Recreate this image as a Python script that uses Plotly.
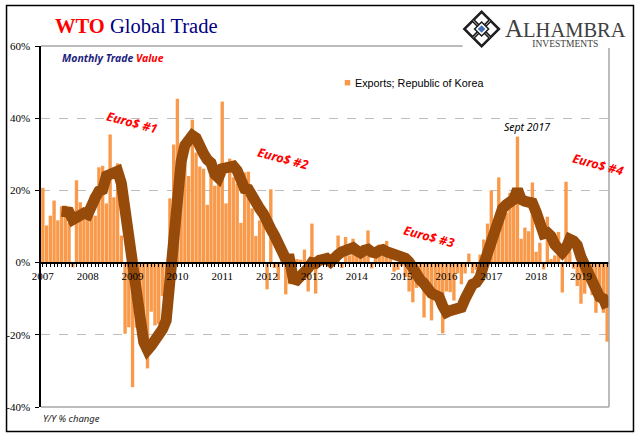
import plotly.graph_objects as go

years = list(range(2007, 2020))
months = [f"{y}-{m:02d}" for y in years for m in range(1, 13)][:152]

exports = [
    20.7, 10.3, 13.0, 17.2, 11.7, 15.6, 15.8, 11.0, -1.3, 22.8, 16.7, 12.0,
    13.0, 18.8, 13.0, 26.4, 26.8, 16.4, 35.5, 18.1, 27.5, 7.5, -19.7, -17.9,
    -34.5, -18.0, -20.0, -22.0, -29.3, -13.6, -17.4, -17.0, -9.3, -6.0, 17.8, 32.7,
    45.4, 30.0, 33.8, 24.0, 39.6, 30.5, 26.6, 26.0, 16.0, 24.0, 21.3, 24.0,
    44.6, 16.4, 28.8, 23.6, 21.9, 11.0, 25.0, 25.2, 15.0, 7.4, 11.7, 12.0,
    -7.4, 20.3, -1.5, -4.8, 2.0, -8.8, -6.0, -4.0, 1.0, 0.8, 3.6, -8.0,
    10.8, -8.6, 1.0, 1.5, 2.7, 1.0, 2.0, 7.5, -1.5, 7.1, 2.0, 6.6,
    2.0, 2.0, 3.0, 8.9, -1.6, 2.0, 5.0, 2.0, 6.0, 2.0, -2.5, -2.0,
    -1.0, -4.0, -8.0, -11.0, -7.0, -5.0, -15.2, -9.0, -16.0, -8.0, -12.0, -19.6,
    -8.0, -8.2, -10.5, -3.0, -6.0, -3.0, 2.5, -3.0, -2.0, 2.2, 6.4, 10.8,
    20.0, 9.0, 23.6, 14.0, 13.8, 19.3, 18.0, 34.9, 6.6, 9.7, 8.7, 22.2,
    3.0, 5.5, -1.9, 12.7, 1.0, 2.0, 8.5, -8.3, 22.4, 3.0, -1.7, -6.5,
    -11.4, -8.6, -5.0, -9.0, -13.9, -7.0, -13.9, -21.9,
]

smoothed = [
    None, None, None, None, None, 14.2, 13.8, 14.0, 11.9, 12.8, 13.7, 13.7,
    13.3, 16.5, 17.9, 19.8, 20.2, 24.0, 24.4, 24.8, 25.3, 22.0, 13.7, 5.0,
    -3.0, -10.0, -15.0, -22.0, -24.2, -23.0, -21.5, -21.0, -18.5, -16.0, -3.0, 6.0,
    20.0, 28.0, 32.5, 34.5, 35.2, 34.5, 31.5, 30.2, 28.5, 27.6, 24.5, 23.5,
    26.0, 26.5, 27.0, 26.7, 25.5, 22.0, 20.5, 20.3, 18.0, 16.0, 15.0, 13.5,
    10.5, 9.3, 7.5, 5.0, 2.5, 1.0, 1.0, -4.5, -4.8, -4.0, -2.5, -1.5,
    0.0, -0.2, 0.6, 0.7, 1.1, 0.2, 1.7, 2.2, 3.0, 3.3, 3.8, 4.1,
    3.3, 2.7, 3.4, 3.7, 2.9, 2.7, 3.3, 3.6, 3.0, 2.7, 2.3, 2.2,
    1.9, 1.2, 0.2, -1.8, -3.8, -4.8, -5.8, -7.5, -8.5, -9.0, -9.5, -12.0,
    -13.8, -13.3, -13.0, -12.6, -12.4, -10.0, -7.0, -6.0, -5.5, -4.0, -0.5, 3.0,
    6.5, 10.5, 13.0, 15.0, 16.0, 17.0, 17.5, 20.3, 17.5, 17.0, 16.3, 16.5,
    14.0, 11.0, 8.0, 8.3, 7.3, 5.0, 4.2, 2.8, 4.0, 6.5, 6.0, 4.8,
    1.5, -0.5, -4.0, -5.5, -8.0, -9.5, -10.0, -12.5,
]

tick_labels = [m[:4] if m.endswith("-01") else "" for m in months]

W, H = 641, 441
L, R, T, B = 41, 609.5, 46, 407.5


def px(x):
    return (x - L) / (R - L)


def py(y):
    return (B - y) / (B - T)


fig = go.Figure()
fig.add_trace(go.Bar(
    x=months, y=exports, name="Exports; Republic of Korea", showlegend=False,
    marker=dict(color="#F9994A", line=dict(width=0)),
))
fig.add_trace(go.Scatter(
    x=months, y=smoothed, mode="lines", showlegend=False,
    line=dict(color="#964B0A", width=11),
))

shapes = []


def paper_line(x0, y0, x1, y1, color="#A6A6A6", width=1.5):
    shapes.append(dict(type="line", xref="paper", yref="paper", layer="above",
                       x0=px(x0), y0=py(y0), x1=px(x1), y1=py(y1),
                       line=dict(color=color, width=width)))


# frame and plot border
shapes.append(dict(type="rect", xref="paper", yref="paper", layer="below",
                   x0=px(6.5), y0=py(432), x1=px(634), y1=py(5.5),
                   line=dict(color="black", width=1.5)))
paper_line(41, 46, 463, 46)
paper_line(41, 407.5, 609.5, 407.5)
paper_line(609.5, 48, 609.5, 407.5)

# legend swatch
shapes.append(dict(type="rect", xref="paper", yref="paper", layer="above",
                   x0=px(345), y0=py(85.5), x1=px(350.5), y1=py(80),
                   line=dict(width=0), fillcolor="#F9994A"))


# logo, drawn from diamonds
def diamond(cx, cy, r, **kw):
    path = (f"M {px(cx - r)} {py(cy)} L {px(cx)} {py(cy - r)} "
            f"L {px(cx + r)} {py(cy)} L {px(cx)} {py(cy + r)} Z")
    shapes.append(dict(type="path", xref="paper", yref="paper", layer="above", path=path, **kw))


diamond(482, 29, 18, line=dict(color="#1a1a1a", width=1.5), fillcolor="white")
for dx, dy in [(-9, 0), (9, 0), (0, -9), (0, 9)]:
    diamond(482 + dx, 29 + dy, 7.5, line=dict(color="#1a1a1a", width=1.6), fillcolor="white")
diamond(482, 29, 7, line=dict(color="#1a1a1a", width=1.5), fillcolor="white")
diamond(482, 29, 3.8, line=dict(width=0), fillcolor="#3F6FB5")

annotations = []


def label(x, y, text, size, color="black", family="Liberation Serif", angle=0, anchor="left"):
    annotations.append(dict(xref="paper", yref="paper", x=px(x), y=py(y), text=text,
                            showarrow=False, xanchor=anchor, yanchor="middle", textangle=angle,
                            font=dict(size=size, color=color, family=family)))


label(53, 26, '<b><span style="color:#FF0000">WTO</span></b> Global Trade', 20.5, color="#000080")
label(60, 58, '<b><i>Monthly Trade <span style="color:#FF0000">Value</span></i></b>', 10.5,
      color="#1F1F80", family="Noto Sans")
label(132, 123, "<b><i>Euro$ #1</i></b>", 12.5, "#FF0000", "Noto Sans", 15, "center")
label(283, 159, "<b><i>Euro$ #2</i></b>", 12.5, "#FF0000", "Noto Sans", 15, "center")
label(429, 237, "<b><i>Euro$ #3</i></b>", 12.5, "#FF0000", "Noto Sans", 15, "center")
label(598, 165, "<b><i>Euro$ #4</i></b>", 12.5, "#FF0000", "Noto Sans", 15, "center")
label(527, 127, "<i>Sept 2017</i>", 10.5, "black", "Noto Sans", 0, "center")
label(41, 419, "<i>Y/Y % change</i>", 9.5, "#222222", "Noto Sans")
label(353, 83, "Exports; Republic of Korea", 10.8, "black", "Liberation Sans")
label(566, 32,
      '<span style="font-size:25px">A</span><span style="font-size:20.5px">LHAMBRA</span>'
      '<br><span style="font-size:9.5px">INVESTMENTS</span>',
      8, "#404040", anchor="center")

fig.update_layout(
    width=W, height=H, autosize=False,
    margin=dict(l=L, r=W - R, t=T, b=H - B, pad=0),
    paper_bgcolor="white", plot_bgcolor="white",
    bargap=0.1, shapes=shapes, annotations=annotations, showlegend=False,
    xaxis=dict(
        type="category", categoryorder="array", categoryarray=months, automargin=False,
        range=[-0.5, 151.5], anchor="free", position=py(263),
        tickmode="array", tickvals=months, ticktext=tick_labels, tickangle=0,
        ticks="outside", ticklen=3, tickwidth=1, tickcolor="black",
        showline=True, linecolor="black", linewidth=2, showgrid=False,
        tickfont=dict(family="Liberation Serif", size=11, color="black"),
    ),
    yaxis=dict(
        range=[-40, 60], tickvals=[-40, -20, 0, 20, 40, 60], automargin=False,
        ticktext=["-40%", "-20%", "0%", "20%", "40%", "60%"],
        ticks="outside", ticklen=4, tickcolor="black", showline=True, linecolor="black", linewidth=1.5,
        showgrid=True, gridcolor="#BDBDBD", griddash="dash", gridwidth=1, zeroline=False,
        ticklabelstandoff=3,
        tickfont=dict(family="Liberation Serif", size=11, color="black"),
    ),
)

fig.write_html("out.html", config=dict(displayModeBar=False), post_script="document.body.style.margin='0'")
